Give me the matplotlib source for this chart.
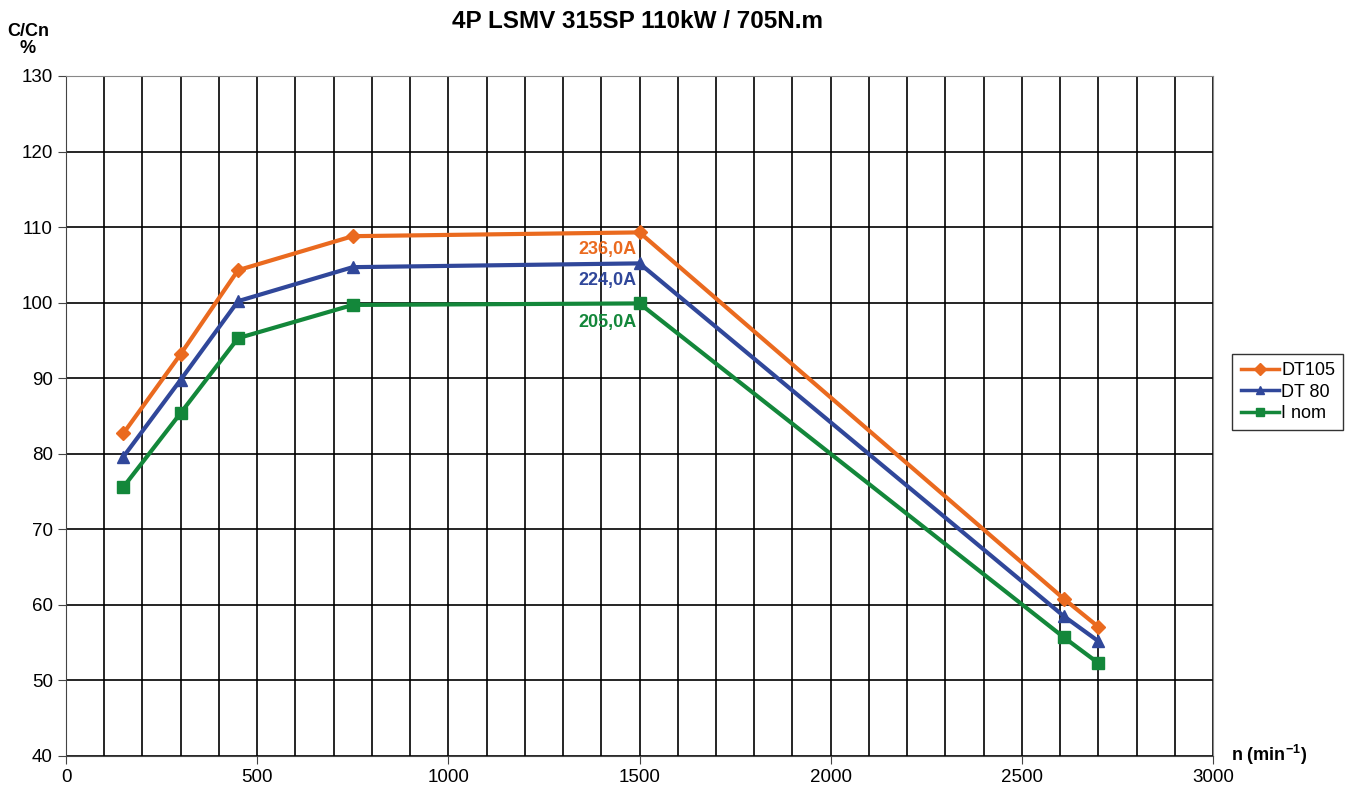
import numpy as np
import matplotlib.pyplot as plt

# speed points (min-1)
speed = [150, 300, 450, 750, 1500, 2610, 2700]

# torque C/Cn in %
dt105 = [82.7, 93.2, 104.3, 108.8, 109.3, 60.8, 57.1]
dt80 = [79.6, 89.8, 100.2, 104.7, 105.2, 58.5, 55.2]
inom = [75.6, 85.4, 95.3, 99.7, 99.9, 55.7, 52.3]

labels = ['DT105', 'DT 80', 'I nom']
currents = ['236,0A', '224,0A', '205,0A']


def main():
    plt.rcParams['font.family'] = ['Liberation Sans', 'DejaVu Sans']
    plt.rcParams['mathtext.fontset'] = 'custom'
    plt.rcParams['mathtext.bf'] = 'Liberation Sans:bold'
    fig = plt.figure(figsize=(13.57, 7.91), dpi=100)
    ax = fig.add_axes([66/1357, 1-756/791, (1213-66)/1357, (756-76)/791])

    orange = '#ea6a1f'
    blue = '#30479a'
    green = '#13873a'

    ax.plot(speed, dt105, color=orange, lw=3, marker='D', ms=7, label=labels[0])
    ax.plot(speed, dt80, color=blue, lw=3, marker='^', ms=9, label=labels[1])
    ax.plot(speed, inom, color=green, lw=3, marker='s', ms=8, label=labels[2])

    # current annotations next to the 1500 point
    for vals, txt, c, dy in zip([dt105, dt80, inom], currents,
                                [orange, blue, green], [-2.3, -2.3, -2.5]):
        ax.text(1492, vals[4] + dy, txt, color=c, fontsize=13,
                fontweight='bold', ha='right', va='center')

    ax.set_xlim(0, 3000)
    ax.set_ylim(40, 130)
    ax.set_xticks(np.arange(0, 3001, 500))
    ax.set_xticks(np.arange(0, 3001, 100), minor=True)
    ax.set_yticks(np.arange(40, 131, 10))
    ax.grid(True, which='both', axis='x', color='black', lw=1.2)
    ax.grid(True, which='major', axis='y', color='black', lw=1.2)
    ax.tick_params(axis='x', which='minor', length=0)
    ax.tick_params(axis='both', which='major', labelsize=13.5, length=6,
                   direction='out', color='#444444')
    for s in ['top', 'right']:
        ax.spines[s].set_color('#888888')
    for s in ['left', 'bottom']:
        ax.spines[s].set_color('#444444')
    ax.set_axisbelow(True)

    fig.text(638/1357, 1-22/791, '4P LSMV 315SP 110kW / 705N.m', fontsize=17.5,
             fontweight='bold', ha='center', va='center')
    fig.text(28/1357, 1-40/791, 'C/Cn\n%', fontsize=13, fontweight='bold',
             ha='center', va='center', linespacing=1.0)
    fig.text(1269/1357, 1-755/791, r'n (min$^{\mathbf{-1}}$)', fontsize=13,
             fontweight='bold', ha='center', va='center')

    leg = ax.legend(loc='center left', bbox_to_anchor=(1.017, 0.535),
                    fontsize=13, frameon=True, fancybox=False,
                    edgecolor='black', handlelength=2.1, borderpad=0.45,
                    labelspacing=0.25, handletextpad=0.15, borderaxespad=0)
    leg.get_frame().set_linewidth(1.0)
    for h in leg.legend_handles:
        h.set_linewidth(2.5)
        h.set_markersize(6)

    fig.savefig('out.png', dpi=100)


if __name__ == "__main__":
    main()
